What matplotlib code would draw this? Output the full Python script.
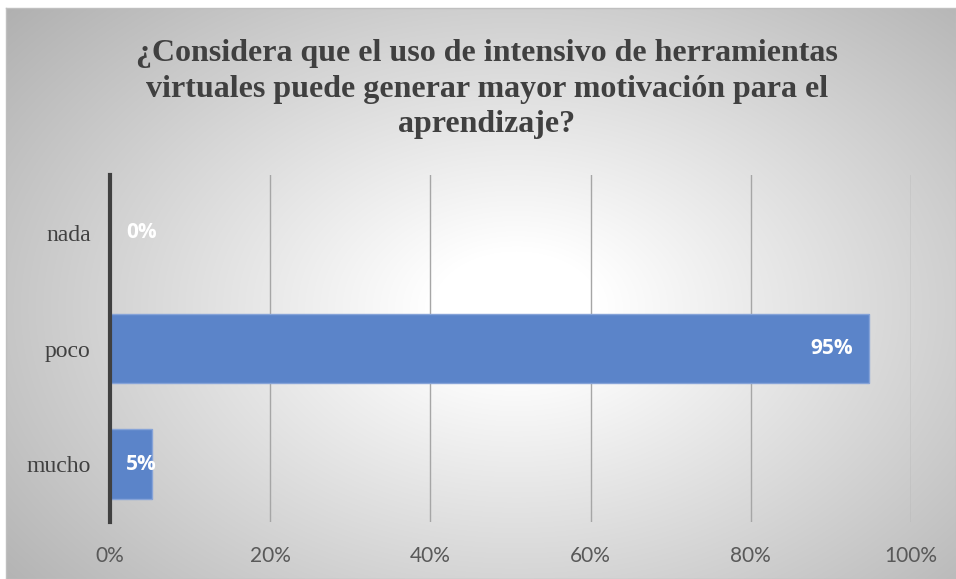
import numpy as np
import matplotlib
matplotlib.use("Agg")
import matplotlib.pyplot as plt
from matplotlib.ticker import FuncFormatter

categories = ["mucho", "poco", "nada"]
values = [0.0526, 0.9474, 0.0]
labels = ["5%", "95%", "0%"]
xticks = [0, 0.2, 0.4, 0.6, 0.8, 1.0]
title = ("¿Considera que el uso de intensivo de herramientas\n"
         "virtuales puede generar mayor motivación para el\n"
         "aprendizaje?")

W, H = 956, 579
fig = plt.figure(figsize=(W / 100, H / 100), dpi=100)
fig.patch.set_facecolor("white")

# radial gradient background of the chart area
bg = fig.add_axes([6 / W, 0, 1 - 6 / W, 1 - 8 / H])
yy, xx = np.mgrid[0:571, 0:950]
cx, cy = 510, 300
d = np.sqrt(((xx - cx) / 560.0) ** 2 + ((yy - cy) / 380.0) ** 2)
shade = 1.0 - 0.27 * np.clip((d - 0.15) / 0.92, 0, 1.2)
bg.imshow(np.dstack([shade] * 3), aspect="auto", extent=[0, 1, 0, 1])
bg.set_xlim(0, 1)
bg.set_ylim(0, 1)
bg.set_xticks([])
bg.set_yticks([])
for s in bg.spines.values():
    s.set_color("#bfbfbf")
    s.set_linewidth(1)

ax = fig.add_axes([110 / W, (H - 522) / H, (911 - 110) / W, (522 - 175) / H])
ax.set_facecolor("none")
ypos = np.arange(len(categories))
ax.barh(ypos, values, height=0.6, color="#5b84c9", edgecolor="#86a3d8",
        linewidth=1, zorder=3)
ax.set_xlim(0, 1)
ax.set_ylim(-0.5, 2.5)
ax.set_xticks(xticks)
ax.xaxis.set_major_formatter(FuncFormatter(lambda v, p: f"{v * 100:.0f}%"))
ax.set_yticks(ypos)
ax.set_yticklabels(categories, family="Liberation Serif", fontsize=17,
                   color="#404040")
for t in ax.get_xticklabels():
    t.set_family("Lato")
    t.set_fontsize(15)
    t.set_color("#595959")
ax.tick_params(length=0)
ax.tick_params(axis="x", pad=17)
ax.tick_params(axis="y", pad=14)
ax.grid(axis="x", color="#a6a6a6", linewidth=1, zorder=1)
for s in ["top", "right", "bottom"]:
    ax.spines[s].set_visible(False)
ax.spines["left"].set_color("#404040")
ax.spines["left"].set_linewidth(3)
ax.spines["left"].set_zorder(4)

for y, v, lab in zip(ypos, values, labels):
    if v > 0.5:
        ax.text(v - 0.02, y, lab, ha="right", va="center", color="white",
                fontsize=15, fontweight="bold", family="Open Sans", zorder=5)
    else:
        ax.text(0.02, y, lab, ha="left", va="center", color="white",
                fontsize=15, fontweight="bold", family="Open Sans", zorder=5)

fig.text(487 / W, 1 - 89 / H, title, ha="center", va="center",
         family="Liberation Serif", fontweight="bold", fontsize=23,
         color="#404040", linespacing=1.3)

fig.savefig("out.png", dpi=100)
